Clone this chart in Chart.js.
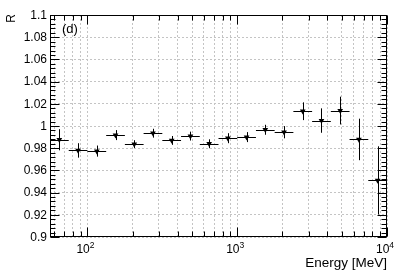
<!DOCTYPE html>
<html>
<head>
  <meta charset="UTF-8">
  <title>R vs Energy</title>
  <style>
    html, body { margin: 0; padding: 0; background: #fff; }
    #wrap { width: 399px; height: 273px; }
  </style>
  <script src="https://cdn.jsdelivr.net/npm/chart.js"></script>
</head>
<body>
<div id="wrap"><canvas id="rChart" width="399" height="273"></canvas></div>
<script>
// bin centres and edges in MeV (8 log bins per decade)
const energy   = [64.9, 86.6, 115.5, 154.0, 205.4, 273.8, 365.2, 487.0, 649.4, 866.0, 1154.8, 1539.9, 2053.5, 2738.4, 3651.7, 4869.7, 6493.8, 8659.6];
const binLow   = [56.23, 75.0, 100, 133.4, 177.8, 237.1, 316.2, 421.7, 562.3, 749.9, 1000, 1333.5, 1778.3, 2371.4, 3162.3, 4217.0, 5623.4, 7498.9];
const binHigh  = [75.0, 100, 133.4, 177.8, 237.1, 316.2, 421.7, 562.3, 749.9, 1000, 1333.5, 1778.3, 2371.4, 3162.3, 4217.0, 5623.4, 7498.9, 10000];
const ratio    = [0.9876, 0.978, 0.9774, 0.9918, 0.9837, 0.9935, 0.987, 0.9909, 0.984, 0.989, 0.990, 0.9966, 0.9944, 1.0133, 1.0049, 1.0139, 0.9879, 0.951];
const ratioErr = [0.0095, 0.0065, 0.005, 0.0045, 0.0035, 0.004, 0.004, 0.004, 0.004, 0.0045, 0.0045, 0.0045, 0.0055, 0.008, 0.011, 0.0125, 0.0187, 0.0307];

const yTicks      = [0.9, 0.92, 0.94, 0.96, 0.98, 1.0, 1.02, 1.04, 1.06, 1.08, 1.1];
const yTickLabels = ['0.9', '0.92', '0.94', '0.96', '0.98', '1', '1.02', '1.04', '1.06', '1.08', '1.1'];
const xTicks      = [60, 70, 80, 90, 100, 200, 300, 400, 500, 600, 700, 800, 900, 1000,
                     2000, 3000, 4000, 5000, 6000, 7000, 8000, 9000, 10000];
const xDecades    = [100, 1000, 10000];
const xDecadeExp  = ['2', '3', '4'];

const FONT = '"Liberation Sans", Arial, Helvetica, sans-serif';

// ROOT-like frame, inward ticks, error bars and labels
const rootFrame = {
  id: 'rootFrame',
  beforeDatasetsDraw(chart) {
    const ctx = chart.ctx, xs = chart.scales.x, ys = chart.scales.y;
    ctx.save();
    ctx.strokeStyle = '#000';
    ctx.lineWidth = 1;
    for (let i = 0; i < energy.length; i++) {
      const x = Math.round(xs.getPixelForValue(energy[i])) + 0.5;
      const y = Math.round(ys.getPixelForValue(ratio[i])) + 0.5;
      ctx.beginPath();
      ctx.moveTo(xs.getPixelForValue(binLow[i]), y);
      ctx.lineTo(xs.getPixelForValue(binHigh[i]), y);
      ctx.moveTo(x, ys.getPixelForValue(ratio[i] - ratioErr[i]));
      ctx.lineTo(x, ys.getPixelForValue(ratio[i] + ratioErr[i]));
      ctx.stroke();
    }
    ctx.restore();
  },
  afterDraw(chart) {
    const ctx = chart.ctx, a = chart.chartArea;
    const xs = chart.scales.x, ys = chart.scales.y;
    const L = Math.round(a.left) + 0.5, R = Math.round(a.right) - 0.5;
    const T = Math.round(a.top) + 0.5, B = Math.round(a.bottom) - 0.5;
    ctx.save();
    ctx.strokeStyle = '#000';
    ctx.lineWidth = 1;
    ctx.strokeRect(L, T, R - L, B - T);

    ctx.beginPath();
    // y ticks, left and right (minor every 0.004)
    for (let k = 0; k <= 50; k++) {
      const v = 0.9 + k * 0.004;
      const y = Math.round(ys.getPixelForValue(v)) + 0.5;
      const len = (k % 5 === 0) ? 9 : 5;
      ctx.moveTo(L, y); ctx.lineTo(L + len, y);
      ctx.moveTo(R, y); ctx.lineTo(R - len, y);
    }
    // x ticks, bottom and top
    xTicks.forEach(v => {
      const x = Math.round(xs.getPixelForValue(v)) + 0.5;
      const len = xDecades.includes(v) ? 9 : 5;
      ctx.moveTo(x, B); ctx.lineTo(x, B - len);
      ctx.moveTo(x, T); ctx.lineTo(x, T + len);
    });
    ctx.stroke();

    ctx.fillStyle = '#000';
    // y tick labels
    ctx.font = '12px ' + FONT;
    ctx.textAlign = 'right';
    ctx.textBaseline = 'middle';
    yTicks.forEach((v, i) => {
      ctx.fillText(yTickLabels[i], a.left - 3, ys.getPixelForValue(v) + 0.5);
    });

    // x decade labels 10^n
    ctx.textAlign = 'left';
    ctx.textBaseline = 'alphabetic';
    xDecades.forEach((v, i) => {
      ctx.font = '12px ' + FONT;
      const wBase = ctx.measureText('10').width;
      ctx.font = '8.5px ' + FONT;
      const wExp = ctx.measureText(xDecadeExp[i]).width;
      const x0 = xs.getPixelForValue(v) - 2 - (wBase + wExp) / 2;
      ctx.font = '12px ' + FONT;
      ctx.fillText('10', x0, 253);
      ctx.font = '8.5px ' + FONT;
      ctx.fillText(xDecadeExp[i], x0 + wBase, 248);
    });

    // axis titles
    ctx.font = '13.5px ' + FONT;
    ctx.textAlign = 'right';
    ctx.fillText('Energy [MeV]', a.right, 266.5);
    ctx.save();
    ctx.translate(15, a.top - 1);
    ctx.rotate(-Math.PI / 2);
    ctx.font = '12px ' + FONT;
    ctx.fillText('R', 0, 0);
    ctx.restore();

    // panel tag
    ctx.font = '13px ' + FONT;
    ctx.textAlign = 'left';
    ctx.fillText('(d)', 62, 32.5);
    ctx.restore();
  }
};

const chart = new Chart(document.getElementById('rChart'), {
  type: 'scatter',
  data: {
    datasets: [{
      data: energy.map((e, i) => ({ x: e, y: ratio[i] })),
      pointStyle: 'triangle',
      rotation: 180,
      radius: 3.3,
      backgroundColor: '#000',
      borderColor: '#000',
      borderWidth: 0
    }]
  },
  options: {
    responsive: false,
    animation: false,
    layout: { padding: { left: 50, right: 12, top: 15, bottom: 36 } },
    plugins: { legend: { display: false }, tooltip: { enabled: false } },
    scales: {
      x: {
        type: 'logarithmic',
        min: 56.234,
        max: 10000,
        afterBuildTicks: s => { s.ticks = xTicks.map(v => ({ value: v })); },
        ticks: { display: false },
        grid: { color: '#c4c4c4', lineWidth: 1, drawTicks: false },
        border: { display: false, dash: [2, 2] }
      },
      y: {
        min: 0.9,
        max: 1.1,
        afterBuildTicks: s => { s.ticks = yTicks.map(v => ({ value: v })); },
        ticks: { display: false },
        grid: { color: '#c4c4c4', lineWidth: 1, drawTicks: false },
        border: { display: false, dash: [2, 2] }
      }
    }
  },
  plugins: [rootFrame]
});
</script>
</body>
</html>
